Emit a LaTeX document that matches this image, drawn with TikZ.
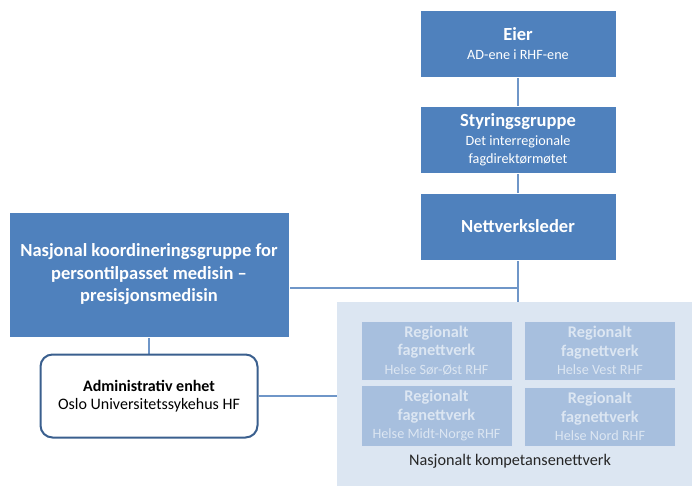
\documentclass[tikz,border=0pt]{standalone}
\usepackage{fontspec}
\setmainfont{Carlito}
\usetikzlibrary{backgrounds}
\definecolor{mainblue}{HTML}{4F81BD}
\definecolor{lightbg}{HTML}{DCE6F2}
\definecolor{subfill}{HTML}{A7BFDE}
\definecolor{subtext}{HTML}{DCE6F2}
\definecolor{linecol}{HTML}{6F96C8}
\definecolor{darkborder}{HTML}{3A5F8E}
\tikzset{
  bluebox/.style={fill=mainblue, draw=white, line width=0.8pt, text=white, align=center, inner sep=2pt, font=\fontsize{14.2}{17.5}\selectfont},
  subbox/.style={fill=subfill, draw=white!60!subfill, line width=0.6pt, text=subtext, align=center, minimum width=151pt, inner sep=1pt, font=\fontsize{14.2}{18.5}\selectfont},
  conn/.style={draw=linecol, line width=1.6pt},
}
\newcommand{\bigttl}[1]{{\fontsize{18.5}{18}\selectfont\bfseries #1}}
\newcommand{\midttl}[1]{{\fontsize{16.3}{18}\selectfont\bfseries #1}}
\begin{document}
\begin{tikzpicture}[x=1pt,y=-1pt]
\useasboundingbox (0,0) rectangle (693,486);
\node[bluebox, minimum width=196pt, minimum height=67pt] (eier) at (518,43.5)
  {\bigttl{Eier}\\[2pt]AD-ene i RHF-ene};
\node[bluebox, minimum width=196pt, minimum height=67pt] (styr) at (518,139.5)
  {\bigttl{Styringsgruppe}\\[2pt]Det interregionale\\fagdirektørmøtet};
\node[bluebox, minimum width=196pt, minimum height=67pt] (nett) at (518,226.5)
  {\bigttl{Nettverksleder}};
\node[bluebox, minimum width=280pt, minimum height=125pt, font=\fontsize{18.5}{22.5}\selectfont\bfseries] (nkg) at (149,274.5)
  {Nasjonal koordineringsgruppe for\\persontilpasset medisin –\\presisjonsmedisin};
\node[draw=darkborder, line width=2pt, rounded corners=12pt, fill=white, minimum width=217pt, minimum height=83pt, align=center, font=\fontsize{16}{17.5}\selectfont] (adm) at (149,396)
  {\textbf{Administrativ enhet}\\Oslo Universitetssykehus HF};
\node[fill=lightbg, minimum width=355pt, minimum height=184pt, inner sep=0pt] (komp) at (514.5,394) {};
\node[subbox, minimum height=59pt] (so) at (436.5,350.5)
  {\midttl{Regionalt}\\\midttl{fagnettverk}\\Helse Sør-Øst RHF};
\node[subbox, minimum height=59pt] (ve) at (600,350.5)
  {\midttl{Regionalt}\\\midttl{fagnettverk}\\Helse Vest RHF};
\node[subbox, minimum height=61pt] (mn) at (436.5,415.5)
  {\midttl{Regionalt}\\\midttl{fagnettverk}\\Helse Midt-Norge RHF};
\node[subbox, minimum height=59pt] (no) at (600,416.5)
  {\midttl{Regionalt}\\\midttl{fagnettverk}\\Helse Nord RHF};
\node[font=\fontsize{16.2}{18}\selectfont, text=black!85] (lbl) at (510,461) {Nasjonalt kompetansenettverk};
\coordinate (j) at (518,288);
\begin{scope}[on background layer]
  \draw[conn] (eier.south) -- (styr.north);
  \draw[conn] (styr.south) -- (nett.north);
  \draw[conn] (nett.south) -- (nett.south |- komp.north);
  \draw[conn] (nkg.east |- j) -- (j);
  \draw[conn] (nkg.south) -- (adm.north);
  \draw[conn] (adm.east) -- (komp.west |- adm.east);
\end{scope}
\end{tikzpicture}
\end{document}
